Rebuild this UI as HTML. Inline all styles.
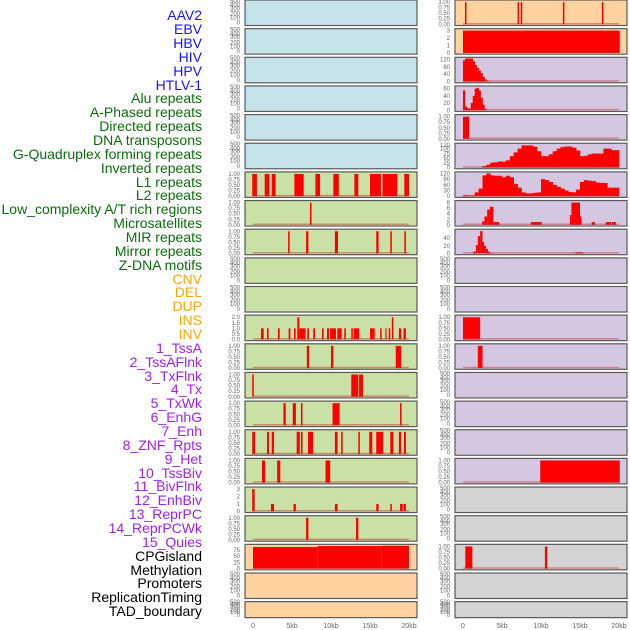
<!DOCTYPE html>
<html><head><meta charset="utf-8"><style>
html,body{margin:0;padding:0;background:#fff;}
svg{display:block;font-family:"Liberation Sans",sans-serif;}
.lab{font-size:14px;text-anchor:end;}
.tk{font-size:6px;fill:#666;text-anchor:end;}
.xt{font-size:7px;fill:#666;text-anchor:middle;}
</style></head><body>
<svg id="chart" width="630" height="630" viewBox="0 0 630 630">
<g>
<text class="lab" x="202" y="20" fill="#1515ff">AAV2</text>
<text class="lab" x="202" y="34" fill="#1515ff">EBV</text>
<text class="lab" x="202" y="48" fill="#1515ff">HBV</text>
<text class="lab" x="202" y="62" fill="#1515ff">HIV</text>
<text class="lab" x="202" y="76" fill="#1515ff">HPV</text>
<text class="lab" x="202" y="90" fill="#1515ff">HTLV-1</text>
<text class="lab" x="202" y="103" fill="#0a6e0a">Alu repeats</text>
<text class="lab" x="202" y="117" fill="#0a6e0a">A-Phased repeats</text>
<text class="lab" x="202" y="131" fill="#0a6e0a">Directed repeats</text>
<text class="lab" x="202" y="145" fill="#0a6e0a">DNA transposons</text>
<text class="lab" x="202" y="159" fill="#0a6e0a">G-Quadruplex forming repeats</text>
<text class="lab" x="202" y="173" fill="#0a6e0a">Inverted repeats</text>
<text class="lab" x="202" y="187" fill="#0a6e0a">L1 repeats</text>
<text class="lab" x="202" y="200" fill="#0a6e0a">L2 repeats</text>
<text class="lab" x="202" y="214" fill="#0a6e0a">Low_complexity A/T rich regions</text>
<text class="lab" x="202" y="228" fill="#0a6e0a">Microsatellites</text>
<text class="lab" x="202" y="242" fill="#0a6e0a">MIR repeats</text>
<text class="lab" x="202" y="256" fill="#0a6e0a">Mirror repeats</text>
<text class="lab" x="202" y="270" fill="#0a6e0a">Z-DNA motifs</text>
<text class="lab" x="202" y="284" fill="#ffa500">CNV</text>
<text class="lab" x="202" y="297" fill="#ffa500">DEL</text>
<text class="lab" x="202" y="311" fill="#ffa500">DUP</text>
<text class="lab" x="202" y="325" fill="#ffa500">INS</text>
<text class="lab" x="202" y="339" fill="#ffa500">INV</text>
<text class="lab" x="202" y="353" fill="#a020f0">1_TssA</text>
<text class="lab" x="202" y="367" fill="#a020f0">2_TssAFlnk</text>
<text class="lab" x="202" y="381" fill="#a020f0">3_TxFlnk</text>
<text class="lab" x="202" y="394" fill="#a020f0">4_Tx</text>
<text class="lab" x="202" y="408" fill="#a020f0">5_TxWk</text>
<text class="lab" x="202" y="422" fill="#a020f0">6_EnhG</text>
<text class="lab" x="202" y="436" fill="#a020f0">7_Enh</text>
<text class="lab" x="202" y="450" fill="#a020f0">8_ZNF_Rpts</text>
<text class="lab" x="202" y="464" fill="#a020f0">9_Het</text>
<text class="lab" x="202" y="478" fill="#a020f0">10_TssBiv</text>
<text class="lab" x="202" y="491" fill="#a020f0">11_BivFlnk</text>
<text class="lab" x="202" y="505" fill="#a020f0">12_EnhBiv</text>
<text class="lab" x="202" y="519" fill="#a020f0">13_ReprPC</text>
<text class="lab" x="202" y="533" fill="#a020f0">14_ReprPCWk</text>
<text class="lab" x="202" y="547" fill="#a020f0">15_Quies</text>
<text class="lab" x="202" y="561" fill="#000">CPGisland</text>
<text class="lab" x="202" y="575" fill="#000">Methylation</text>
<text class="lab" x="202" y="588" fill="#000">Promoters</text>
<text class="lab" x="202" y="602" fill="#000">ReplicationTiming</text>
<text class="lab" x="202" y="616" fill="#000">TAD_boundary</text>
</g>
<g id="panels"></g>
</svg>
<script>
// ---- data ----
const xTickValues = [0, 5, 10, 15, 20];
const xTickLabels = ["0", "5kb", "10kb", "15kb", "20kb"];
const emptyTickLabels = ["500", "400", "300", "200", "100", "0"];
const unitTickValues = [0, 0.25, 0.5, 0.75, 1];
const unitTickLabels = ["0.00", "0.25", "0.50", "0.75", "1.00"];
// segments: [startKb, endKb, value]
const c1L1Segs = [[-0.1,0.5,1],[1.5,2.1,1],[2.4,2.9,1],[5.3,6.5,1],[8,8.6,1],[10.3,11,1],[13,13.5,1],[15,16.4,1],[16.6,18.5,1],[19.4,20,1]];
const c1L2Segs = [[7.3,7.5,1]];
const c1LowCxSegs = [[4.5,4.7,1],[6.8,7.1,1],[10.5,10.9,1],[15.8,16.1,1],[17.6,17.8,1],[19.4,19.6,1]];
const c1InsSegs = [[1.03,1.37,1],[1.79,2.0,1],[3.2,3.42,1],[4.57,4.79,1],[5.26,5.47,1],[5.68,5.94,2],[5.94,6.75,1],[6.97,7.18,1],[7.73,7.95,1],[8.85,9.06,1],[9.49,9.74,1],[9.87,10.64,1],[10.81,11.37,1],[11.7,11.9,1],[12.6,12.8,1],[12.9,13.6,1],[15.0,15.6,1],[16.3,16.5,1],[16.97,17.1,1],[17.4,17.6,1],[17.8,18.0,2],[18.7,19.0,1],[19.3,19.6,1]];
const c1InvSegs = [[6.9,7.2,1],[10.0,10.3,1],[18.3,19.0,1]];
const c1TssASegs = [[-0.1,0.1,1],[12.6,13.5,1],[13.6,14.1,1]];
const c1TssAFlnkSegs = [[3.9,4.2,1],[5.1,5.5,1],[6.15,6.35,1],[10.2,11.1,1],[18.85,19.05,1]];
const c1TxFlnkSegs = [[-0.1,0.26,1],[1.8,2.05,1],[2.4,2.7,1],[5.6,6.0,1],[6.15,6.35,1],[7.05,7.7,1],[10.5,10.85,1],[11.3,11.5,1],[13.5,13.7,1],[14.9,15.3,1],[15.8,16.7,1],[17.6,18.0,1],[18.7,19.0,1],[19.35,19.6,1]];
const c1TxSegs = [[1.15,1.55,1],[3.1,3.5,1],[9.3,9.9,1]];
const c1TxWkSegs = [[-0.1,0.2,3],[0.05,0.2,2.2],[2.3,2.7,1],[5.2,5.5,1],[10.5,10.85,1],[15.8,16.1,1],[17.6,17.8,1],[18.85,19.2,1],[19.3,19.6,1]];
const c1EnhGSegs = [[6.8,7.1,1],[13.2,13.5,1]];
const c1CpgSegs = [[0,8.3,87],[8.3,16.5,91],[16.5,20,92]];
const c2AavSegs = [[0.25,0.45,1],[7.0,7.2,1],[7.4,7.6,1],[12.8,13.0,1],[17.8,18.0,1]];
const c2EbvSegs = [[0,20.1,3]];
const c2HpvSegs = [[0,0.8,1]];
const c2InsSegs = [[0,2.2,1]];
const c2InvSegs = [[1.9,2.5,1]];
const c2EnhSegs = [[9.9,20.1,1]];
const c2CpgSegs = [[0.3,1.2,1],[10.5,10.8,1]];
const c2MicroSegs = [[2.45,2.75,1.2],[2.75,3.1,3],[3.1,3.45,5.5],[3.45,3.9,6.5],[3.9,4.65,1],[8.7,10.1,1],[13.7,13.9,3.5],[13.9,15.0,8],[15.0,15.2,3],[16.5,16.9,1],[18.3,19.0,1],[19.1,19.6,1]];
const c2MirSegs = [[1.3,1.65,5],[1.65,1.9,22],[1.9,2.2,45],[2.2,2.5,58],[2.5,2.7,30],[2.7,2.95,20],[2.95,3.2,12],[3.2,3.45,5],[3.45,3.9,2],[14.4,15.4,3]];
// binned profiles (bin width in kb)
const hivBinValues = [115,125,125,125,125,110,90,75,60,45,25,12,5];
const htlvBinValues = [55,10,5,5,20,40,60,62,55,35,15,3];
const gquadBinValues = [0,0,0,0,0,8,15,26,28,32,31,38,60,80,100,117,117,117,110,86,60,60,70,86,100,108,111,111,105,90,60,62,70,74,74,74,100,100,92,92];
const invertedBinValues = [5,3,3,20,40,110,120,110,108,108,100,108,100,65,45,20,15,15,18,20,90,85,75,60,50,40,30,22,20,35,75,85,82,80,72,70,70,45,45,45];

const BG = {blue:"#c7e3ea", green:"#c9e1a4", peach:"#ffd29f", purple:"#d5c6e2", gray:"#d3d3d3"};
// panel specs: [bg, ymax, tickValues, tickLabels, segs, bins, binWidth]
function E(bg){return {bg:bg, empty:true};}
function U(bg,segs){return {bg:bg,ymax:1.04,tv:unitTickValues,tl:unitTickLabels,segs:segs};}
const col1 = [E('blue'),E('blue'),E('blue'),E('blue'),E('blue'),E('blue'),
 U('green',c1L1Segs),U('green',c1L2Segs),U('green',c1LowCxSegs),E('green'),E('green'),
 {bg:'green',ymax:2.08,tv:[0,0.5,1,1.5,2],tl:["0.0","0.5","1.0","1.5","2.0"],segs:c1InsSegs},
 U('green',c1InvSegs),U('green',c1TssASegs),U('green',c1TssAFlnkSegs),U('green',c1TxFlnkSegs),U('green',c1TxSegs),
 {bg:'green',ymax:3.1,tv:[0,1,2,3],tl:["0","1","2","3"],segs:c1TxWkSegs},
 U('green',c1EnhGSegs),
 {bg:'peach',ymax:93,tv:[0,25,50,75],tl:["0","25","50","75"],segs:c1CpgSegs},
 E('peach'),E('peach')];
const col2 = [U('peach',c2AavSegs),
 {bg:'peach',ymax:3.1,tv:[0,1,2,3],tl:["0","1","2","3"],segs:c2EbvSegs},
 {bg:'purple',ymax:125,tv:[0,40,80,120],tl:["0","40","80","120"],bins:hivBinValues,bw:0.25},
 {bg:'purple',ymax:64,tv:[0,20,40,60],tl:["0","20","40","60"],bins:htlvBinValues,bw:0.25},
 U('purple',c2HpvSegs),
 {bg:'purple',ymax:122,tv:[0,25,50,75,100,120],tl:["0","25","50","75","100","120"],bins:gquadBinValues,bw:0.5},
 {bg:'purple',ymax:122,tv:[0,30,60,90,120],tl:["0","30","60","90","120"],bins:invertedBinValues,bw:0.5},
 {bg:'purple',ymax:8.3,tv:[0,2,4,6,8],tl:["0","2","4","6","8"],segs:c2MicroSegs},
 {bg:'purple',ymax:60,tv:[0,20,40],tl:["0","20","40"],segs:c2MirSegs},
 E('purple'),E('purple'),U('purple',c2InsSegs),U('purple',c2InvSegs),E('purple'),E('purple'),E('purple'),
 U('purple',c2EnhSegs),E('gray'),E('gray'),U('gray',c2CpgSegs),E('gray'),E('gray')];

const NS="http://www.w3.org/2000/svg";
const root=document.getElementById('panels');
function mk(tag,attrs,parent){const e=document.createElementNS(NS,tag);for(const k in attrs)e.setAttribute(k,attrs[k]);(parent||root).appendChild(e);return e;}
const ROW=28.65;
const cols=[{x0:245,x1:417,z:253,tx:240,specs:col1,name:'left'},{x0:455,x1:627,z:463,tx:450,specs:col2,name:'right'}];
const emptyFrac=[0.04,0.22,0.36,0.58,0.75,0.96];
cols.forEach(c=>{
  const xs=kb=>c.z+kb*7.8;
  c.specs.forEach((p,i)=>{
    const top=i*ROW, h=(i===21)?16:25.5, bot=top+h;
    const g=mk('g',{});
    
    
    const r=mk('rect',{x:c.x0,y:top,width:c.x1-c.x0,height:h,fill:BG[p.bg],stroke:'#5a5a5a','stroke-width':1.2},g);
    
    
    if(p.empty){
      emptyTickLabels.forEach((t,k)=>{
        const tt=mk('text',{class:'tk',x:c.tx,y:top+2+emptyFrac[k]*(h-2)},g);tt.textContent=t;
        
        
      });
      return;
    }
    const pt=top+1.2, pb=bot-1.2;
    const ys=v=>pb-v/p.ymax*(pb-pt);
    p.tv.forEach((v,k)=>{
      const tt=mk('text',{class:'tk',x:c.tx,y:ys(v)+2},g);tt.textContent=p.tl[k];
      
      
    });
    if(p.segs){p.segs.forEach(s=>{
      const b=mk('rect',{x:xs(s[0]),y:ys(s[2]),width:Math.max(1.2,xs(s[1])-xs(s[0])),height:pb-ys(s[2]),fill:'#ff0000'},g);
      
      
    });}
    if(p.bins){p.bins.forEach((v,k)=>{
      if(v<=0)return;
      const b=mk('rect',{x:xs(k*p.bw),y:ys(v),width:xs(p.bw)-xs(0)+0.3,height:pb-ys(v),fill:'#ff0000'},g);
      
      
    });}
    const bl=mk('line',{x1:xs(0),x2:xs(20),y1:pb-0.6,y2:pb-0.6,stroke:'rgba(200,40,40,0.45)','stroke-width':1.5},g);
    
    
  });
  xTickValues.forEach((v,k)=>{
    const t=mk('text',{class:'xt',x:xs(v),y:628});t.textContent=xTickLabels[k];
    
    
  });
});
</script>
</body></html>
